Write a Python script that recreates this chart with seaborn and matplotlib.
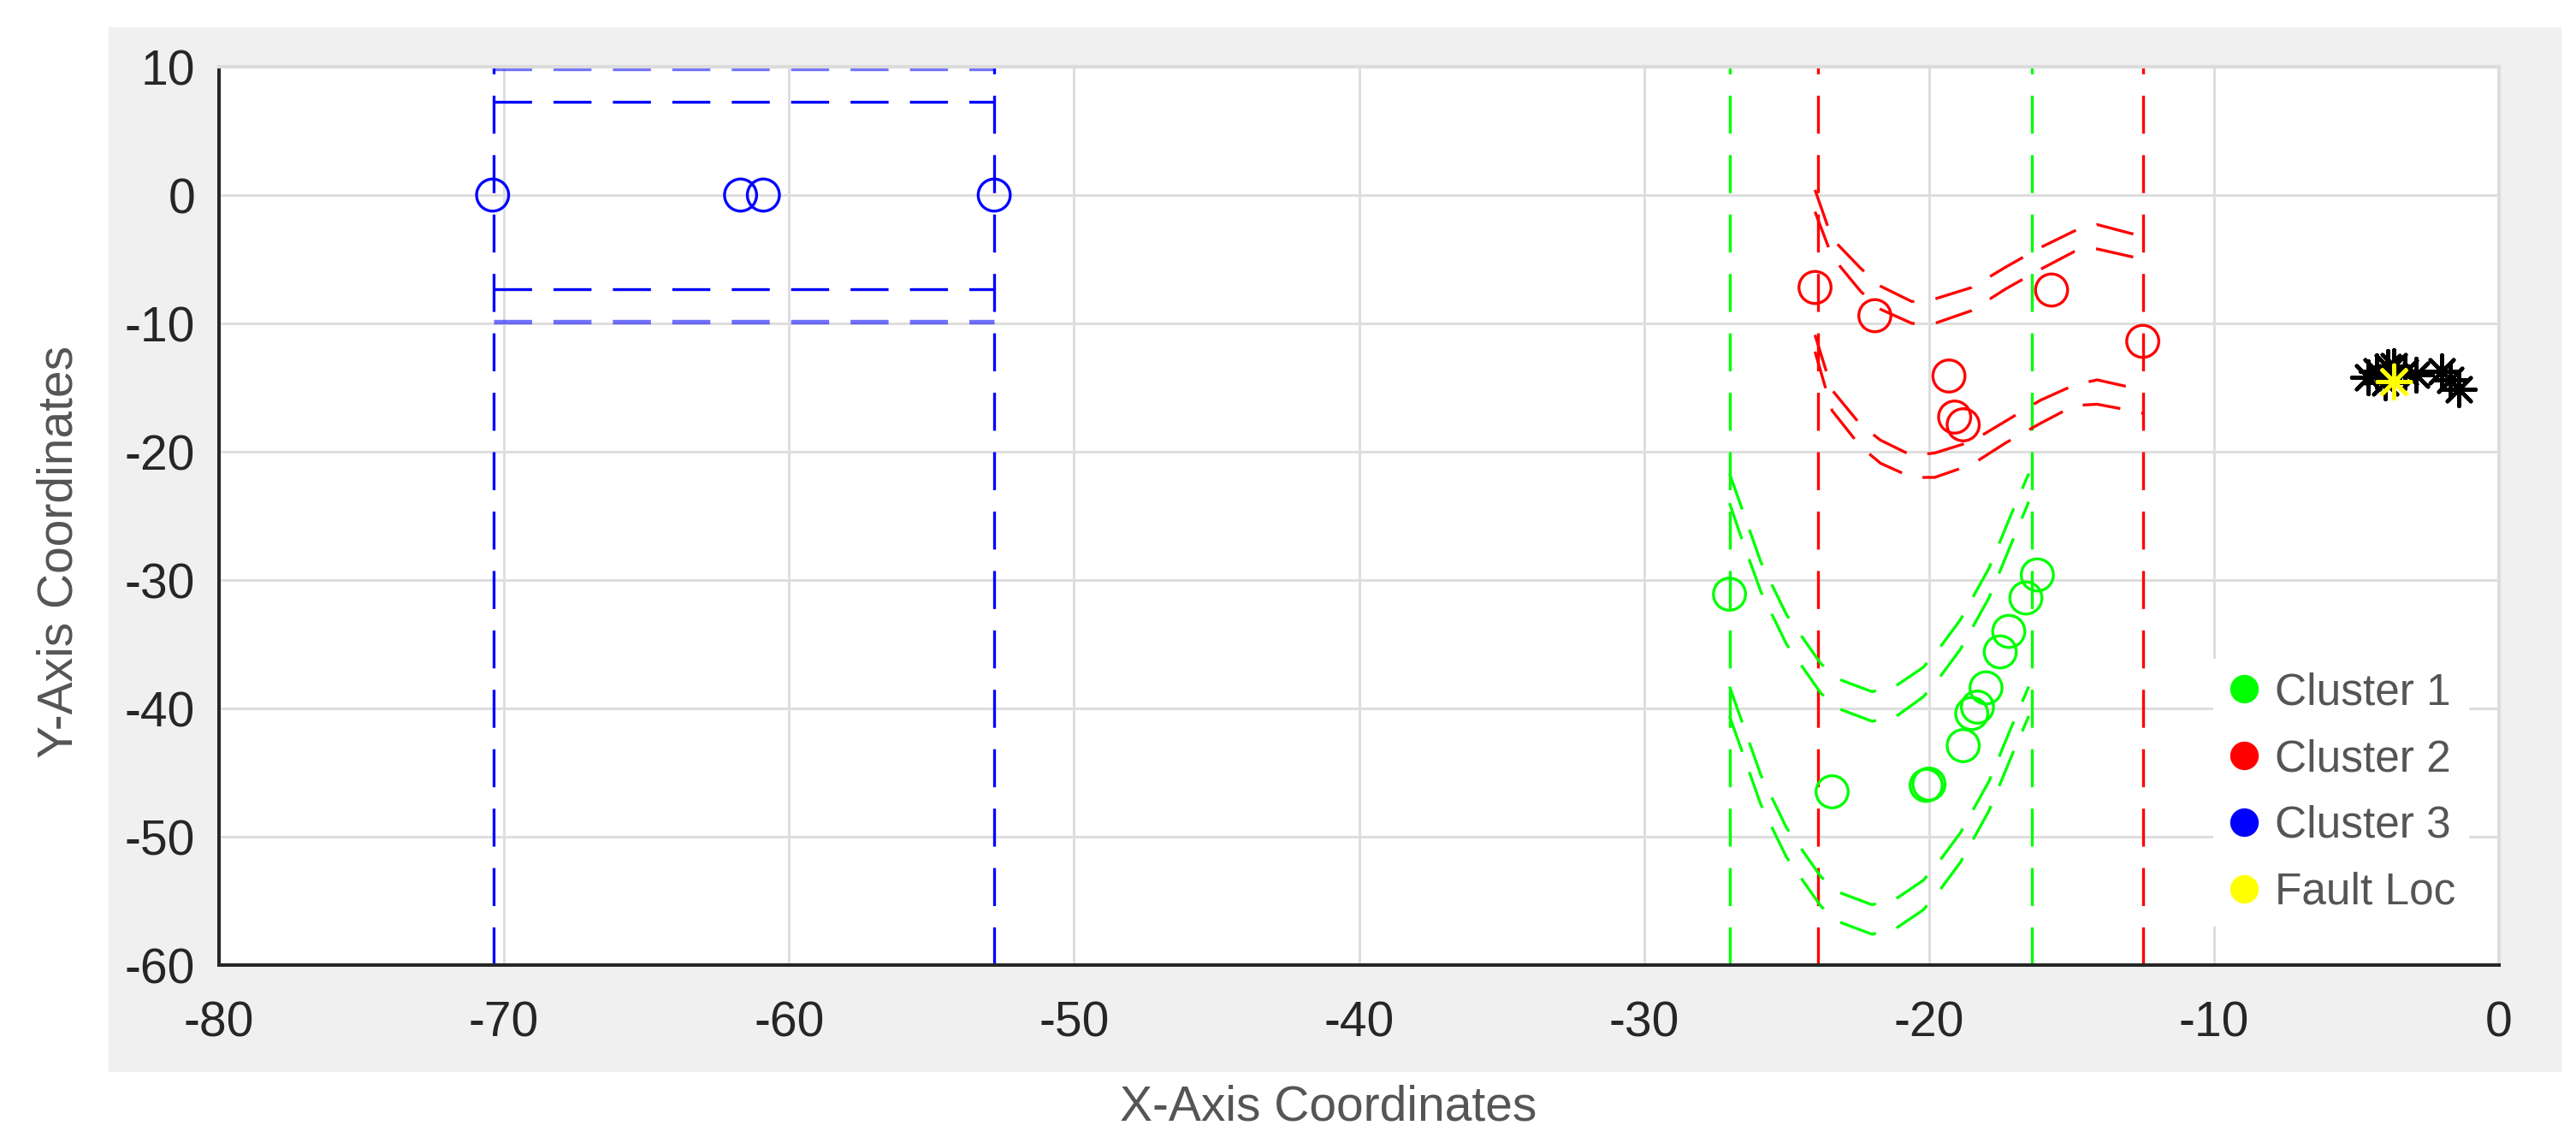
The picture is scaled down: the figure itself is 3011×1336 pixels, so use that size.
import numpy as np
import pandas as pd
import matplotlib
matplotlib.use("Agg")
import matplotlib.pyplot as plt
from matplotlib.patches import Rectangle
from matplotlib.lines import Line2D
import seaborn as sns

# cluster points
c1_x = [-27.0, -16.2, -16.6, -17.2, -17.5, -18.0, -18.3, -18.5, -18.8, -20.0, -20.1, -23.4]
c1_y = [-31.1, -29.6, -31.4, -34.0, -35.6, -38.4, -39.9, -40.4, -42.9, -45.9, -46.0, -46.5]
c2_x = [-24.0, -21.9, -15.7, -12.5, -19.3, -19.1, -18.8]
c2_y = [-7.2, -9.4, -7.4, -11.4, -14.1, -17.3, -17.9]
c3_x = [-70.4, -61.7, -60.9, -52.8]
c3_y = [0.0, 0.0, 0.0, 0.0]
sensor_x = [-4.6, -4.3, -3.9, -3.7, -4.0, -3.3, -2.9, -2.0, -1.7, -1.4]
sensor_y = [-14.2, -13.7, -13.4, -13.3, -14.6, -13.8, -14.0, -13.7, -14.4, -15.1]
fault_x = [-3.7]
fault_y = [-14.5]

# boundary curves of cluster 2 (red)
red_x = [-24.0, -23.4, -22.4, -21.7, -20.6, -19.8, -18.5, -17.3, -16.1, -14.9, -14.1, -12.9, -12.5]
red_y1 = [0.4, -3.4, -5.7, -7.1, -8.3, -8.1, -7.2, -5.6, -4.1, -2.8, -2.3, -3.0, -3.2]
red_y2 = [-1.3, -4.8, -7.5, -8.9, -10.0, -10.0, -9.0, -7.3, -5.8, -4.4, -4.2, -4.8, -5.0]
red_y3 = [-10.9, -15.2, -17.9, -19.1, -20.3, -20.1, -19.2, -17.6, -16.0, -14.8, -14.4, -15.0, -15.2]
red_y4 = [-12.2, -16.8, -19.6, -20.9, -22.0, -22.0, -21.0, -19.3, -17.8, -16.4, -16.3, -16.8, -17.0]
red_vlines = [-23.9, -12.5]

# boundary curves of cluster 1 (green)
green_x = [-27.0, -26.6, -25.9, -25.0, -23.8, -23.2, -22.0, -21.2, -20.2, -19.7, -18.9, -17.9, -17.1, -16.5]
green_y1 = [-21.7, -24.2, -28.6, -32.7, -36.5, -37.7, -38.7, -38.3, -36.8, -35.5, -33.1, -29.1, -24.8, -21.7]
green_y2 = [-24.0, -26.6, -30.9, -35.0, -38.8, -40.0, -41.0, -40.7, -39.1, -37.8, -35.4, -31.4, -27.1, -23.9]
green_y3 = [-38.3, -40.8, -45.2, -49.3, -53.1, -54.3, -55.3, -54.9, -53.4, -52.1, -49.7, -45.7, -41.4, -38.3]
green_y4 = [-40.6, -43.1, -47.5, -51.6, -55.4, -56.6, -57.6, -57.2, -55.7, -54.4, -52.0, -48.0, -43.7, -40.6]
green_vlines = [-27.0, -16.4]

# boundary of cluster 3 (blue)
blue_x = [-70.35, -52.8]
blue_inner = [7.3, -7.3]
blue_outer = [9.85, -9.85]
blue_vlines = [-70.35, -52.8]

legend_labels = ["Cluster 1", "Cluster 2", "Cluster 3", "Fault Loc"]

GREEN = "#00ff00"
RED = "#ff0000"
BLUE = "#0000ff"
YELLOW = "#ffff00"

sns.set_style("white")
plt.rcParams["font.family"] = ["Liberation Sans", "DejaVu Sans"]
plt.rcParams["lines.scale_dashes"] = False
plt.rcParams["axes.unicode_minus"] = False

W, H = 3011, 1336
fig = plt.figure(figsize=(W / 100, H / 100), dpi=100)
fig.patches.append(Rectangle((127 / W, 1 - 1252 / H), (2993 - 127) / W, (1252 - 32) / H,
                             transform=fig.transFigure, color="#f0f0f0", zorder=-10))
ax = fig.add_axes([256 / W, 1 - 1128 / H, (2921 - 256) / W, (1128 - 78) / H])
ax.set_zorder(5)
ax.set_facecolor("white")

DASH = (0, (32, 18))
LW = 2.4

for xv in green_vlines:
    ax.axvline(xv, color=GREEN, lw=LW, linestyle=DASH, zorder=2)
for xv in red_vlines:
    ax.axvline(xv, color=RED, lw=LW, linestyle=DASH, zorder=2)
for xv in blue_vlines:
    ax.axvline(xv, color=BLUE, lw=LW, linestyle=DASH, zorder=2)

for yy in [green_y1, green_y2, green_y3, green_y4]:
    sns.lineplot(x=green_x, y=yy, sort=False, estimator=None, color=GREEN,
                 lw=LW, linestyle=DASH, ax=ax, zorder=2)
for yy in [red_y1, red_y2, red_y3, red_y4]:
    sns.lineplot(x=red_x, y=yy, sort=False, estimator=None, color=RED,
                 lw=LW, linestyle=DASH, ax=ax, zorder=2)
for yv in blue_inner:
    sns.lineplot(x=blue_x, y=[yv, yv], sort=False, estimator=None, color=BLUE,
                 lw=LW, linestyle=DASH, ax=ax, zorder=2)
for yv in blue_outer:
    sns.lineplot(x=blue_x, y=[yv, yv], sort=False, estimator=None, color=BLUE,
                 lw=LW * 1.6, alpha=0.55, linestyle=DASH, ax=ax, zorder=2)

CIRC = dict(marker="o", facecolor="none", s=27 ** 2, linewidth=2.4, ax=ax, zorder=3, legend=False)
sns.scatterplot(x=c1_x, y=c1_y, edgecolor=GREEN, **CIRC)
sns.scatterplot(x=c2_x, y=c2_y, edgecolor=RED, **CIRC)
sns.scatterplot(x=c3_x, y=c3_y, edgecolor=BLUE, **CIRC)

ast = (8, 2, 0)
sns.scatterplot(x=sensor_x, y=sensor_y, marker=ast, color="black", s=28 ** 2,
                linewidth=3.2, ax=ax, zorder=4, legend=False)
sns.scatterplot(x=fault_x, y=fault_y, marker=ast, color=YELLOW, s=28 ** 2,
                linewidth=3.5, ax=ax, zorder=5, legend=False)

ax.set_xlim(-80, 0)
ax.set_ylim(-60, 10)
ax.set_xticks(np.arange(-80, 1, 10))
ax.set_yticks(np.arange(-60, 11, 10))
ax.grid(True, color="#dedede", lw=2.2)
ax.set_axisbelow(True)
for s in ["left", "bottom"]:
    ax.spines[s].set_color("#262626")
    ax.spines[s].set_linewidth(2.9)
for s in ["top", "right"]:
    ax.spines[s].set_color("#dcdcdc")
    ax.spines[s].set_linewidth(3)
ax.tick_params(axis="both", direction="in", length=19, width=2.2, color="#262626",
               labelsize=41, labelcolor="#262626")
ax.tick_params(axis="x", pad=30)
ax.tick_params(axis="y", pad=20)
ax.set_xlabel("")
ax.set_ylabel("")

fig.text(1553 / W, 1 - 1295 / H, "X-Axis Coordinates", ha="center", va="center",
         fontsize=41, color="#555555")
fig.text(70 / W, 1 - 645 / H, "Y-Axis Coordinates", ha="center", va="center",
         rotation=90, fontsize=41, color="#555555")

handles = [Line2D([], [], marker="o", linestyle="", color=c, markersize=23)
           for c in [GREEN, RED, BLUE, YELLOW]]
leg = ax.legend(handles, legend_labels, loc="upper left", bbox_to_anchor=(0.8747, 0.341),
                frameon=True, facecolor="white", edgecolor="none", framealpha=1,
                fancybox=False, borderaxespad=0, borderpad=0.3, labelspacing=0.56,
                handlelength=0.8, handletextpad=0.3, fontsize=37)
for t in leg.get_texts():
    t.set_color("#555555")

fig.savefig("out.png", dpi=100, facecolor="white")
